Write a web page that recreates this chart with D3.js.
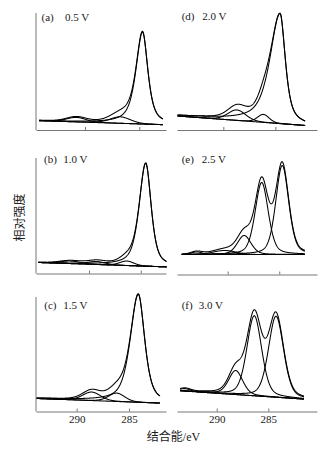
<!DOCTYPE html>
<html>
<head>
<meta charset="utf-8">
<script src="https://cdn.jsdelivr.net/npm/d3@7"></script>
<style>
  html, body { margin: 0; padding: 0; background: #fff; }
  svg { display: block; }
</style>
</head>
<body>
<svg id="chart" width="328" height="450"></svg>
<script>
// C 1s spectra at six charge voltages, each fitted with several peaks on a linear background.
const panelKeys = ["(a)", "(b)", "(c)", "(d)", "(e)", "(f)"];
const voltages = ["0.5 V", "1.0 V", "1.5 V", "2.0 V", "2.5 V", "3.0 V"];
const tickValues = [290, 285];
const tickLabels = ["290", "285"];

// Binding-energy window of each panel (eV, high to low) and span of the measured curve
const energyWindows = [[294.51, 282.54], [295.13, 282.56], [293.89, 281.46],
                       [294.45, 281.0], [294.91, 281.34], [293.85, 280.28]];
const curveSpans = [[294.23, 282.82], [294.89, 282.5], [293.82, 282.04],
                    [294.4, 282.14], [294.45, 282.51], [293.56, 281.54]];
// Linear background intensity at the high-BE and low-BE ends (a.u.)
const backgrounds = [[9.3, 5.3], [11, 6.6], [13, 8.4], [14, 4.5], [20, 20], [20.7, 12.4]];

// Fitted components: centre (eV), height (a.u.), half widths on the high-BE / low-BE side (eV), Lorentzian fraction
const peakCenters = [
  [284.7, 286.75, 290.8],
  [284.52, 286.35, 289.3, 291.8],
  [284.11, 286.18, 288.57],
  [284.55, 286.15, 288.7],
  [284.71, 286.7, 288.4, 290.3, 293.0],
  [284.25, 286.36, 288.16, 293.07]
];
const peakHeights = [
  [92, 6.5, 4.5],
  [103, 4.5, 3, 2.5],
  [108, 8.4, 8.5],
  [110, 8, 10.5],
  [89, 72, 19, 4, 2.6],
  [81, 80, 24, 2.5]
];
const peakHalfWidthHigh = [
  [0.72, 1.1, 1.05],
  [0.75, 0.8, 1.0, 1.2],
  [0.9, 0.9, 1.0],
  [1.15, 0.65, 1.0],
  [0.74, 0.75, 0.78, 1.3, 0.6],
  [0.86, 0.84, 0.8, 0.6]
];
const peakHalfWidthLow = [
  [0.58, 1.1, 1.05],
  [0.62, 0.8, 1.0, 1.2],
  [0.72, 0.9, 1.0],
  [0.6, 0.65, 1.0],
  [0.74, 0.75, 0.78, 1.3, 0.6],
  [0.86, 0.84, 0.8, 0.6]
];
const peakLorentz = [
  [0.7, 0.2, 0.2],
  [0.6, 0.2, 0.2, 0.0],
  [0.6, 0.2, 0.2],
  [0.7, 0.2, 0.2],
  [0.35, 0.35, 0.3, 0.0, 0.0],
  [0.3, 0.3, 0.3, 0.0]
];

// Panel frames on the page (lx/vx/ly place the panel caption)
const frames = [
  { x0: 36, x1: 166, axisY: 130,   top: 13,  yAxis: true,  lx: 41.5, vx: 65,  ly: 20.7 },
  { x0: 36, x1: 166, axisY: 273.5, top: 158, yAxis: true,  lx: 44,   vx: 63.3, ly: 163.3 },
  { x0: 36, x1: 166, axisY: 411.5, top: 297, yAxis: true,  lx: 44.3, vx: 63.3, ly: 309.2 },
  { x0: 177, x1: 317, axisY: 130,  top: 13,  yAxis: false, lx: 181.7, vx: 202.3, ly: 20.2 },
  { x0: 177, x1: 317, axisY: 274.5, top: 158, yAxis: false, lx: 181.7, vx: 201.7, ly: 162.8 },
  { x0: 177, x1: 317, axisY: 411.5, top: 297, yAxis: false, lx: 181.7, vx: 198.8, ly: 309.2 }
];

const serif = "'Liberation Serif', 'Times New Roman', Times, serif";
const cjk = "'Noto Sans CJK SC', sans-serif";
const ink = "#1a1a1a";
const svg = d3.select("#chart");

function profile(e, c, h, wHigh, wLow, eta) {
  const d = e - c;
  const u = d / (d > 0 ? wHigh : wLow);
  const u2 = u * u;
  return h * (eta / (1 + u2) + (1 - eta) * Math.exp(-Math.LN2 * u2));
}

frames.forEach((f, i) => {
  const g = svg.append("g");
  const x = d3.scaleLinear().domain(energyWindows[i]).range([f.x0, f.x1]);
  const y = d3.scaleLinear().domain([0, f.axisY - f.top]).range([f.axisY, f.top]);

  // bottom axis with short inward ticks
  const axis = d3.axisBottom(x).tickValues(tickValues)
    .tickSize(-3).tickSizeOuter(0)
    .tickFormat((d, k) => (i === 2 || i === 5) ? tickLabels[k] : "");
  const ax = g.append("g").attr("transform", `translate(0,${f.axisY})`).call(axis);
  ax.attr("font-family", null).attr("font-size", null);
  ax.select(".domain").attr("stroke", "#666").attr("stroke-width", 0.9);
  ax.selectAll(".tick line").attr("stroke", "#666").attr("stroke-width", 0.9);
  ax.selectAll(".tick text").attr("y", 2).attr("dy", "0.9em")
    .style("font-family", serif).style("font-size", "11px").attr("fill", ink);

  if (f.yAxis) {
    g.append("line").attr("x1", f.x0).attr("x2", f.x0)
      .attr("y1", f.top).attr("y2", f.axisY)
      .attr("stroke", "#666").attr("stroke-width", 0.9);
  }

  // background, components and their sum
  const [eHi, eLo] = curveSpans[i];
  const [bHi, bLo] = backgrounds[i];
  const bg = d3.scaleLinear().domain([eHi, eLo]).range([bHi, bLo]);
  const energies = d3.range(eHi, eLo - 1e-9, -0.02);
  const comps = peakCenters[i].map((c, k) => e => profile(e, c, peakHeights[i][k],
      peakHalfWidthHigh[i][k], peakHalfWidthLow[i][k], peakLorentz[i][k]));

  const line = d3.line().x(p => x(p[0])).y(p => y(p[1]));
  const style = sel => sel.attr("fill", "none").attr("stroke", "#000")
    .attr("stroke-width", 1.05).attr("stroke-linejoin", "round");

  g.append("path").datum(energies.map(e => [e, bg(e)])).attr("d", line).call(style);
  comps.forEach(fn => {
    g.append("path").datum(energies.map(e => [e, bg(e) + fn(e)])).attr("d", line).call(style);
  });
  g.append("path").datum(energies.map(e => [e, bg(e) + d3.sum(comps, fn => fn(e))]))
    .attr("d", line).call(style);

  // caption: panel key and charge voltage
  const cap = g.append("g").attr("fill", ink)
    .style("font-family", serif).style("font-size", "11px");
  cap.append("text").attr("x", f.lx).attr("y", f.ly).text(panelKeys[i]);
  cap.append("text").attr("x", f.vx).attr("y", f.ly).text(voltages[i]);
});

svg.append("text")
  .attr("transform", "translate(23.5,217.5) rotate(-90)")
  .attr("text-anchor", "middle").attr("fill", ink)
  .style("font-family", cjk).style("font-size", "12px")
  .text("相对强度");

const xt = svg.append("text").attr("x", 173.5).attr("y", 441)
  .attr("text-anchor", "middle").attr("fill", ink);
xt.append("tspan").style("font-family", cjk).style("font-size", "12px").text("结合能");
xt.append("tspan").style("font-family", serif).style("font-size", "12px").text("/eV");
</script>
</body>
</html>
